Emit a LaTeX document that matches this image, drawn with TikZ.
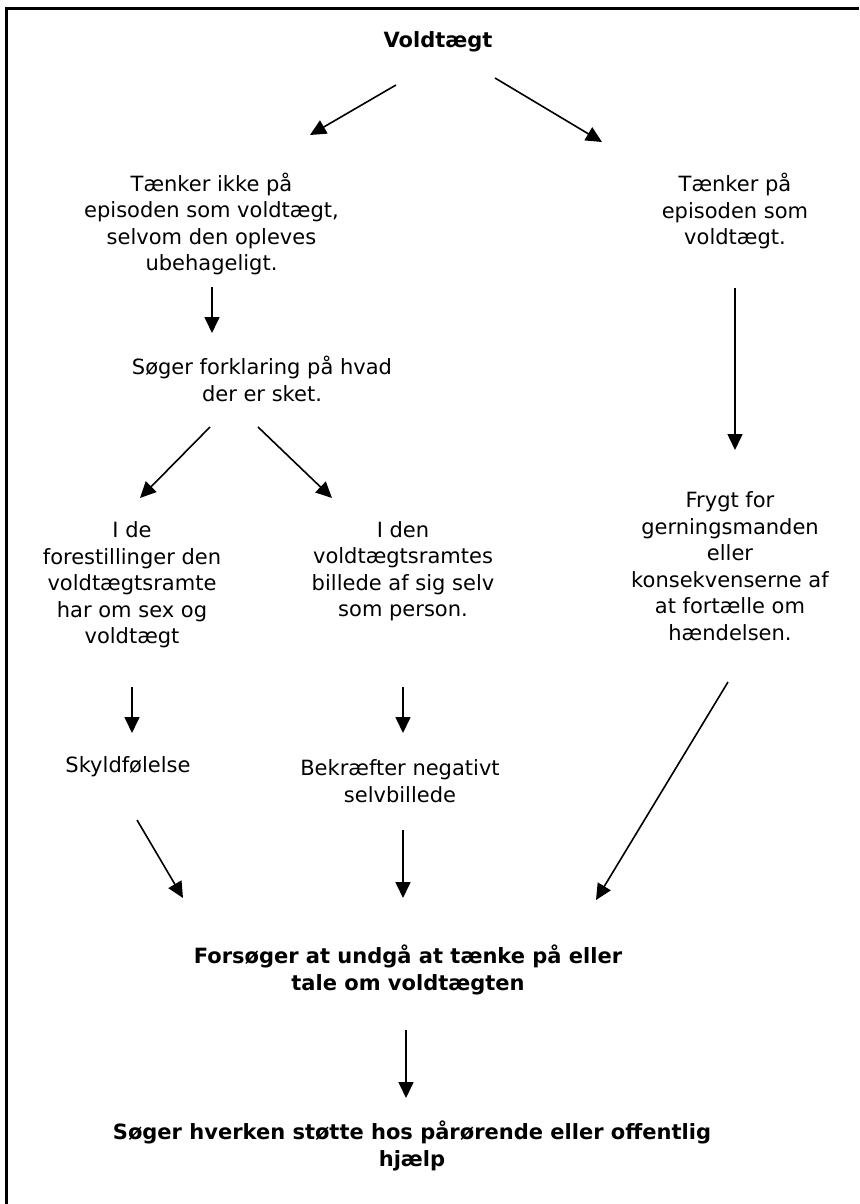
\documentclass[tikz,border=0pt]{standalone}
\usepackage{fontspec}
\setmainfont{DejaVu Sans}
\usetikzlibrary{arrows.meta}
\tikzset{
  txt/.style={align=center, inner sep=0pt, font=\fontsize{21}{26.5}\selectfont},
  btxt/.style={align=center, inner sep=0pt, font=\fontsize{21}{26.5}\selectfont\bfseries},
  arr/.style={line width=1.6pt, -{Triangle[length=16pt,width=15pt]}},
  frame/.style={line width=3pt}
}
\begin{document}
\begin{tikzpicture}[x=1pt,y=-1pt]
\useasboundingbox (0,0) rectangle (859,1204);
% frame (top and left edges)
\coordinate (fbl) at (6,1204);
\coordinate (ftl) at (6,9);
\coordinate (ftr) at (859,9);
\draw[frame] (fbl) -- (ftl) -- (ftr);

% nodes
\node[btxt] (title) at (438,42) {Voldtægt};
\node[txt] (n1) at (211.5,224) {Tænker ikke på\\episoden som voldtægt,\\selvom den opleves\\ubehageligt.};
\node[txt] (n2) at (735,211) {Tænker på\\episoden som\\voldtægt.};
\node[txt] (n3) at (262,379) {Søger forklaring på hvad\\der er sket.};
\node[txt] (n4) at (132,585) {I de\\forestillinger den\\voldtægtsramte\\har om sex og\\voldtægt};
\node[txt] (n5) at (403,571) {I den\\voldtægtsramtes\\billede af sig selv\\som person.};
\node[txt] (n6) at (730,566) {Frygt for\\gerningsmanden\\eller\\konsekvenserne af\\at fortælle om\\hændelsen.};
\node[txt] (n7) at (128,767) {Skyldfølelse};
\node[txt] (n8) at (400,781) {Bekræfter negativt\\selvbillede};
\node[btxt] (n9) at (408,970) {Forsøger at undgå at tænke på eller\\tale om voldtægten};
\node[btxt] (n10) at (412,1146) {Søger hverken støtte hos pårørende eller offentlig\\hjælp};

% arrow end points
\coordinate (a1s) at (396,85);  \coordinate (a1e) at (310,135);
\coordinate (a2s) at (495,78);  \coordinate (a2e) at (602,142);
\coordinate (a3s) at (212,287); \coordinate (a3e) at (212,333);
\coordinate (a4s) at (735,288); \coordinate (a4e) at (735,450);
\coordinate (a5s) at (210,427); \coordinate (a5e) at (140,498);
\coordinate (a6s) at (258,427); \coordinate (a6e) at (332,498);
\coordinate (a7s) at (132,687); \coordinate (a7e) at (132,733);
\coordinate (a8s) at (403,687); \coordinate (a8e) at (403,733);
\coordinate (a9s) at (137,820); \coordinate (a9e) at (183,898);
\coordinate (a10s) at (403,830); \coordinate (a10e) at (403,898);
\coordinate (a11s) at (728,682); \coordinate (a11e) at (596,900);
\coordinate (a12s) at (406,1030); \coordinate (a12e) at (406,1098);

\draw[arr] (a1s) -- (a1e);
\draw[arr] (a2s) -- (a2e);
\draw[arr] (a3s) -- (a3e);
\draw[arr] (a4s) -- (a4e);
\draw[arr] (a5s) -- (a5e);
\draw[arr] (a6s) -- (a6e);
\draw[arr] (a7s) -- (a7e);
\draw[arr] (a8s) -- (a8e);
\draw[arr] (a9s) -- (a9e);
\draw[arr] (a10s) -- (a10e);
\draw[arr] (a11s) -- (a11e);
\draw[arr] (a12s) -- (a12e);
\end{tikzpicture}
\end{document}
